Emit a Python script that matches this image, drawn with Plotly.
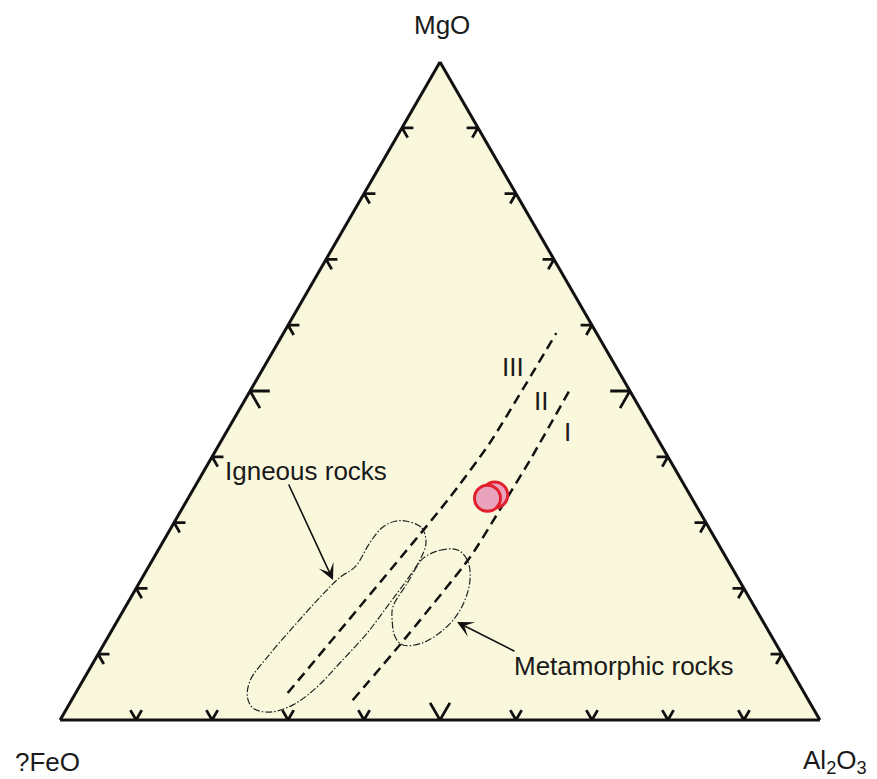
import plotly.graph_objects as go

# ---------------- data (ternary %, MgO = a, ?FeO = b, Al2O3 = c) ----------------
sample_mgo = [34.2, 33.7]
sample_al2o3 = [40.1, 39.4]

line3_mgo = [4.1, 33.4, 42.1, 58.8]
line3_al2o3 = [27.9, 34.3, 35.5, 35.9]

line1_mgo = [3.0, 11.4, 24.8, 31.9, 39.5, 50.0]
line1_al2o3 = [37.0, 39.0, 41.6, 41.9, 42.1, 42.0]

igneous_mgo = [30.2, 29.2, 26.9, 24.3, 21.3, 17.8, 13.2, 8.7, 5.0, 2.3, 1.2, 1.8,
               3.5, 6.1, 9.6, 14.1, 18.7, 21.7, 23.3, 26.9, 29.3, 30.2]
igneous_al2o3 = [30.5, 33.0, 34.7, 35.2, 35.0, 34.5, 33.8, 32.5, 31.3, 29.5, 27.0, 24.5,
                 22.9, 22.0, 22.5, 23.6, 24.9, 26.0, 27.2, 27.3, 27.8, 29.0]

meta_mgo = [24.6, 25.8, 25.8, 24.0, 20.8, 16.7, 13.7, 11.7, 11.4, 12.6, 15.2, 17.2, 20.8, 23.3]
meta_al2o3 = [35.5, 37.1, 39.5, 41.7, 43.5, 44.3, 43.6, 41.8, 39.4, 37.8, 36.1, 35.2, 35.3, 35.3]

tick_values = [10, 20, 30, 40, 50, 60, 70, 80, 90]
axis_labels = ["MgO", "?FeO", "Al<sub>2</sub>O<sub>3</sub>"]
field_labels = ["Igneous rocks", "Metamorphic rocks"]
line_labels = ["III", "II", "I"]


def feo(m, a):
    return [100 - x - y for x, y in zip(m, a)]


def close(lst):
    return lst + [lst[0]]


fig = go.Figure()

# tick marks (chevrons) along each edge
ta, tb, tc = [], [], []
for v in tick_values:
    d = 2.6 if v == 50 else 1.5
    # left edge (c = 0)
    ta += [v, v, v - d, None]
    tb += [100 - v - d, 100 - v, 100 - v, None]
    tc += [d, 0, d, None]
    # right edge (b = 0)
    ta += [v, v, v - d, None]
    tb += [d, 0, d, None]
    tc += [100 - v - d, 100 - v, 100 - v, None]
    # bottom edge (a = 0)
    ta += [d, 0, d, None]
    tb += [100 - v, 100 - v, 100 - v - d, None]
    tc += [v - d, v, v, None]

fig.add_trace(go.Scatterternary(a=ta, b=tb, c=tc, mode="lines",
                                line=dict(color="#111111", width=2.8),
                                connectgaps=False, hoverinfo="skip", showlegend=False))

# field outlines
for m, al in [(igneous_mgo, igneous_al2o3), (meta_mgo, meta_al2o3)]:
    mm, aa = close(m), close(al)
    fig.add_trace(go.Scatterternary(a=mm, b=feo(mm, aa), c=aa, mode="lines",
                                    line=dict(color="#222222", width=1.2, dash="7px,2px,1.5px,2px",
                                              shape="spline", smoothing=1.0),
                                    hoverinfo="skip", showlegend=False))

# dividing lines
for m, al in [(line3_mgo, line3_al2o3), (line1_mgo, line1_al2o3)]:
    fig.add_trace(go.Scatterternary(a=m, b=feo(m, al), c=al, mode="lines",
                                    line=dict(color="#111111", width=2.5, dash="10px,6px",
                                              shape="spline", smoothing=0.6),
                                    hoverinfo="skip", showlegend=False))

# sample points
fig.add_trace(go.Scatterternary(a=sample_mgo, b=feo(sample_mgo, sample_al2o3), c=sample_al2o3,
                                mode="markers",
                                marker=dict(size=26, color="#E9A3BC",
                                            line=dict(color="#E0202C", width=3)),
                                hoverinfo="skip", showlegend=False))

ax_common = dict(showline=True, linecolor="#111111", linewidth=3, showgrid=False,
                 ticks="", showticklabels=False, title=dict(text=""), min=0)

# the page body adds an 8px offset, so the figure is 8px smaller than the window
fig.update_layout(
    width=869, height=771,
    margin=dict(l=52, r=57, t=54, b=59),
    paper_bgcolor="white",
    font=dict(family="Liberation Sans, Arial, sans-serif", color="#1a1a1a", size=26),
    ternary=dict(sum=100, bgcolor="#FAF8DC",
                 aaxis=ax_common, baxis=ax_common, caxis=ax_common),
)

ann = []
# axis labels
ann.append(dict(text=axis_labels[0], x=0.5026, y=1.0562, xanchor="center", yanchor="middle"))
ann.append(dict(text=axis_labels[1], x=-0.0158, y=-0.0638, xanchor="center", yanchor="middle"))
ann.append(dict(text=axis_labels[2], x=1.0197, y=-0.0638, xanchor="center", yanchor="middle"))
# field labels
ann.append(dict(text=field_labels[0], x=0.3237, y=0.3784, xanchor="center", yanchor="middle"))
ann.append(dict(text=field_labels[1], x=0.7421, y=0.0821, xanchor="center", yanchor="middle"))
# roman numerals
ann.append(dict(text=line_labels[0], x=0.5961, y=0.5365, xanchor="center", yanchor="middle"))
ann.append(dict(text=line_labels[1], x=0.6329, y=0.4848, xanchor="center", yanchor="middle"))
ann.append(dict(text=line_labels[2], x=0.6684, y=0.4377, xanchor="center", yanchor="middle"))
for a in ann:
    a.update(xref="paper", yref="paper", showarrow=False, font=dict(size=26))

# arrows
ann.append(dict(text="", x=0.3592, y=0.2128, xref="paper", yref="paper",
                showarrow=True, ax=-45, ay=-97, arrowhead=3, arrowsize=1.7,
                arrowwidth=1.6, arrowcolor="#111111", font=dict(size=26)))
ann.append(dict(text="", x=0.5224, y=0.1489, xref="paper", yref="paper",
                showarrow=True, ax=59, ay=30, arrowhead=3, arrowsize=1.7,
                arrowwidth=1.6, arrowcolor="#111111", font=dict(size=26)))

fig.update_layout(annotations=ann)

fig.write_html("out.html")
